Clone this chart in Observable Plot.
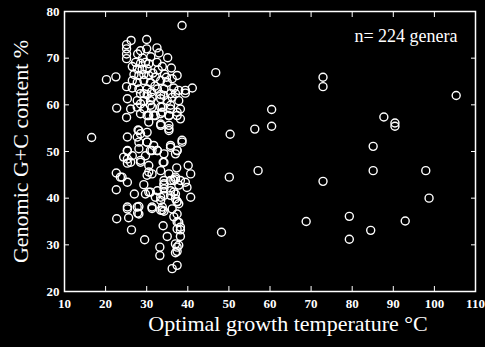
<!DOCTYPE html>
<html><head><meta charset="utf-8">
<script src="https://cdn.jsdelivr.net/npm/d3@7"></script>
<script src="https://cdn.jsdelivr.net/npm/@observablehq/plot@0.6"></script>
<style>html,body{margin:0;padding:0;background:#000;} #chart svg{display:block}</style>
</head><body><div id="chart"></div>
<script>
// Optimal growth temperature (°C) and genomic G+C content (%) per genus
const temperature = [
16.6,20.2,22.5,38.6,46.8,72.9,72.9,105.3,60.4,87.7,90.4,90.4,56.3,60.4,50.3,85.1,57.1,85.1,97.9,50.1,72.9,98.7,79.3,68.8,92.9,48.2,84.5,79.3,
26.2,30.0,25.1,25.1,25.1,25.1,32.5,28.5,27.8,33.0,30.0,35.1,32.5,27.3,28.5,29.7,30.5,36.0,27.7,28.9,30.1,37.4,36.2,26.9,28.1,29.3,30.5,32.1,
26.5,27.7,29.3,30.9,33.4,35.0,25.1,26.5,28.1,30.1,32.6,34.2,36.6,37.8,39.4,41.1,37.0,39.4,28.5,30.1,33.4,35.8,25.3,27.7,29.3,30.9,33.4,35.0,37.8,
22.7,26.1,27.7,29.3,31.3,33.8,35.8,25.1,28.5,30.5,31.7,33.4,35.4,37.4,38.2,30.5,33.4,35.4,27.9,28.5,30.1,25.3,27.7,38.6,
28.1,30.1,31.7,35.4,38.6,35.8,37.4,37.0,25.3,25.3,25.3,26.5,28.5,29.7,30.9,32.6,34.2,30.5,30.5,30.1,37.3,40.1,40.7,22.6,23.6,25.3,22.6,29.3,
34.2,35.8,37.0,38.2,39.4,39.8,40.7,30.5,32.6,34.2,33.4,34.2,35.8,37.0,37.0,27.0,37.4,37.8,25.3,28.1,31.3,33.8,34.2,36.2,22.7,25.6,27.8,37.4,37.8,
26.3,34.0,37.4,38.2,35.0,38.2,29.5,33.2,33.2,37.0,37.4,37.4,37.0,37.8,36.2,37.4,
29.3,31.3,34.2,36.2,28.5,30.9,33.4,35.8,38.2,30.1,32.1,33.8,35.4,37.4,33.4,35.4,28.1,30.1,31.3,32.6,35.8,37.4,25.3,28.1,
31.5,32.8,31.0,29.0,33.8,34.3,26.5,32.0,31.2,34.8,
24.0,29.7,30.9,32.1,25.3,27.7,28.1,31.3,33.8,24.4,26.1,28.5,31.3,33.4,35.4,37.0,34.2,35.8,
34.2,34.0,34.2,36.6,37.8,36.6,37.4,36.6,37.4,38.2,33.4,33.4
];
const gcContent = [
53.0,65.4,66.0,77.0,66.9,65.9,63.9,62.0,59.0,57.4,56.1,55.4,54.8,55.4,53.7,51.1,45.9,45.9,45.9,44.5,43.6,40.0,36.1,35.0,35.1,32.7,33.1,31.2,
73.8,74.0,72.9,72.0,70.9,69.9,72.2,71.6,70.9,71.1,72.0,70.1,69.1,69.1,68.9,69.1,68.8,67.9,67.7,67.6,67.7,66.3,65.6,66.5,66.3,66.5,66.3,65.9,
65.2,64.8,65.2,64.8,65.2,64.8,63.9,63.6,63.4,63.4,63.4,63.4,63.6,63.1,63.1,63.6,62.4,62.5,62.4,62.2,62.2,62.4,61.3,60.9,60.9,60.9,61.3,60.9,60.9,
59.3,59.1,59.5,59.1,59.5,59.5,59.1,57.3,58.1,57.7,57.7,58.1,57.7,57.7,57.0,56.3,55.9,54.9,54.6,53.8,54.1,53.1,53.1,52.4,
52.0,52.0,51.3,54.5,52.0,50.9,50.2,49.5,50.1,48.4,47.5,49.1,48.1,49.1,50.2,50.2,47.7,47.0,45.6,44.9,46.5,47.0,45.2,45.4,44.5,43.4,41.8,42.9,
43.8,43.8,44.1,43.8,43.4,42.3,40.2,41.3,41.6,42.0,40.2,40.6,40.6,40.9,39.9,40.9,39.3,38.8,37.7,38.2,37.8,38.1,37.2,37.7,35.6,35.8,36.8,36.6,34.8,
33.2,34.1,33.4,33.8,31.8,31.8,31.1,29.5,27.7,30.2,29.5,28.6,28.3,29.9,24.9,25.6,
62.4,61.6,62.0,61.6,60.2,59.9,59.5,59.9,59.1,57.7,57.7,58.4,57.7,58.4,55.6,55.6,54.5,52.0,50.2,50.2,51.3,50.2,50.2,50.6,
66.8,67.5,70.3,70.0,68.2,66.6,68.2,64.0,62.8,65.9,
44.5,40.9,41.3,40.2,38.1,38.1,36.6,38.1,37.4,48.8,47.7,47.7,45.2,45.9,45.2,44.5,43.1,41.6,
49.5,47.7,42.8,43.8,42.8,41.3,39.2,36.0,34.9,33.2,39.5,37.4
];
const xTicks = [10, 20, 30, 40, 50, 60, 70, 80, 90, 100, 110];
const yTicks = [20, 30, 40, 50, 60, 70, 80];
const annotation = ["n= 224 genera"];
const xLabel = ["Optimal growth temperature °C"];
const yLabel = ["Genomic G+C content %"];

const data = temperature.map((t, i) => ({t, g: gcContent[i]}));
const serif = "'Liberation Serif', 'Times New Roman', serif";

const chart = Plot.plot({
  width: 485, height: 347,
  marginLeft: 64, marginRight: 10, marginTop: 11, marginBottom: 56,
  style: {background: "#000", color: "#fff", fontFamily: serif},
  x: {domain: [10, 110]},
  y: {domain: [20, 80]},
  marks: [
    Plot.frame({stroke: "#fff", strokeWidth: 1.5}),
    Plot.axisX(xTicks, {anchor: "bottom", tickSize: -5, tickPadding: 12, fontSize: 13, fontWeight: "bold", fontFamily: serif, label: null, stroke: "#fff"}),
    Plot.axisX(xTicks, {anchor: "top", tickSize: -5, tickFormat: () => "", label: null, stroke: "#fff"}),
    Plot.axisY(yTicks, {anchor: "left", tickSize: -5, tickPadding: 10, fontSize: 13, fontWeight: "bold", fontFamily: serif, label: null, stroke: "#fff"}),
    Plot.axisY(yTicks, {anchor: "right", tickSize: -5, tickFormat: () => "", label: null, stroke: "#fff"}),
    Plot.dot(data, {x: "t", y: "g", r: 4, stroke: "#fff", strokeWidth: 1.4, fill: "none"}),
    Plot.text(annotation, {frameAnchor: "top-right", dx: -18, dy: 18, fontSize: 18, fontFamily: serif, fill: "#fff", textAnchor: "end"}),
    Plot.text(xLabel, {frameAnchor: "bottom", dx: 18, dy: 39, fontSize: 22, fontFamily: serif, fill: "#fff", textAnchor: "middle"}),
    Plot.text(yLabel, {frameAnchor: "left", dx: -44, rotate: -90, fontSize: 22, fontFamily: serif, fill: "#fff", textAnchor: "middle"})
  ]
});
document.getElementById("chart").append(chart);
</script>
</body></html>
